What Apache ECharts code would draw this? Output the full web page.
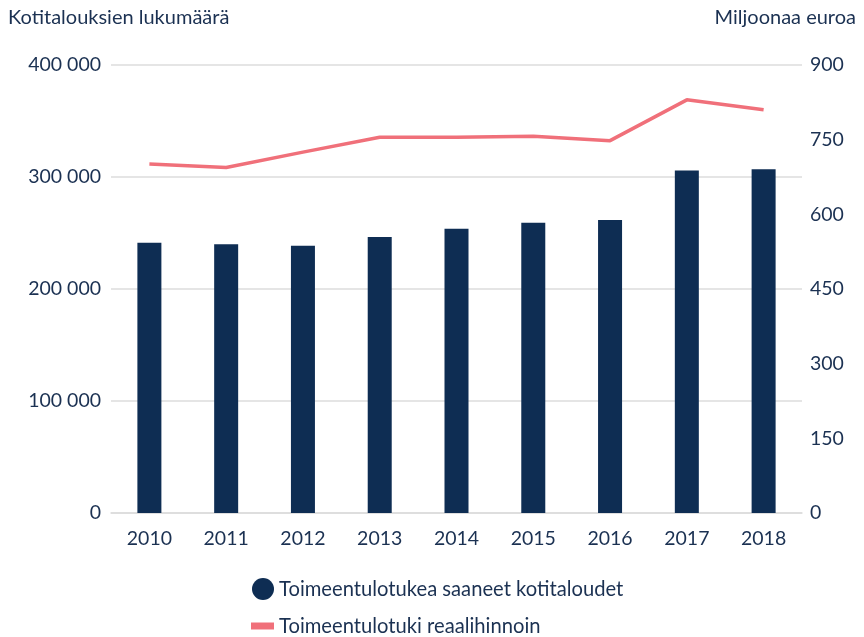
<!DOCTYPE html>
<html><head><meta charset="utf-8">
<script src="https://cdn.jsdelivr.net/npm/echarts@6/dist/echarts.min.js"></script>
<style>html,body{margin:0;padding:0;background:#fff}#c{width:864px;height:637px}</style>
</head><body><div id="c"></div>
<script>
const years = ['2010','2011','2012','2013','2014','2015','2016','2017','2018'];
const households = [241400, 239900, 238700, 246500, 253900, 259200, 261600, 305800, 307000];
const realSupport = [701, 694, 725, 755, 755, 757, 748, 830, 810];
const leftTitle = 'Kotitalouksien lukumäärä';
const rightTitle = 'Miljoonaa euroa';
const seriesNames = ['Toimeentulotukea saaneet kotitaloudet', 'Toimeentulotuki reaalihinnoin'];

const navy = '#0e2d53';
const pink = '#f0707a';
const textCol = '#1b3152';
const chart = echarts.init(document.getElementById('c'), null, {renderer:'canvas'});
chart.setOption({
  animation:false,
  textStyle:{fontFamily:'Lato'},
  graphic:[
    {type:'text', left:8, top:8, style:{text:leftTitle, fill:textCol, font:'20px Lato'}},
    {type:'text', right:8, top:8, style:{text:rightTitle, fill:textCol, font:'20px Lato', textAlign:'right'}}
  ],
  grid:{left:111, right:62, top:65, bottom:124},
  legend:[
    {orient:'vertical', left:247, top:573, itemGap:0, itemWidth:22, itemHeight:22,
     textStyle:{color:textCol, fontSize:20.2, fontFamily:'Lato'},
     data:[{name:seriesNames[0], icon:'circle', itemStyle:{color:navy}}]},
    {orient:'vertical', left:246, top:611, itemGap:0, itemWidth:23, itemHeight:7,
     textStyle:{color:textCol, fontSize:20.2, fontFamily:'Lato'},
     data:[{name:seriesNames[1], icon:'rect', itemStyle:{color:pink}}]}
  ],
  xAxis:{
    type:'category', data:years,
    axisLine:{lineStyle:{color:'#dcdcdc', width:1.5}},
    axisTick:{show:false},
    axisLabel:{color:textCol, fontSize:19.5, margin:16, fontFamily:'Lato'}
  },
  yAxis:[
    {type:'value', min:0, max:400000, interval:100000,
     axisLabel:{color:textCol, fontSize:19.5, margin:10, fontFamily:'Lato',
       formatter:v=>v===0?'0':String(v).replace(/\B(?=(\d{3})+(?!\d))/g,' ')},
     splitLine:{lineStyle:{color:'#dcdcdc', width:1.5}},
     axisLine:{show:false}, axisTick:{show:false}},
    {type:'value', min:0, max:900, interval:150, position:'right',
     axisLabel:{color:textCol, fontSize:19.5, margin:8, fontFamily:'Lato'},
     splitLine:{show:false}, axisLine:{show:false}, axisTick:{show:false}}
  ],
  series:[
    {name:seriesNames[0], type:'bar', data:households, barWidth:24, yAxisIndex:0,
     itemStyle:{color:navy}},
    {name:seriesNames[1], type:'line', data:realSupport, yAxisIndex:1,
     symbol:'none', lineStyle:{color:pink, width:3.5}, itemStyle:{color:pink}}
  ]
});
</script></body></html>
